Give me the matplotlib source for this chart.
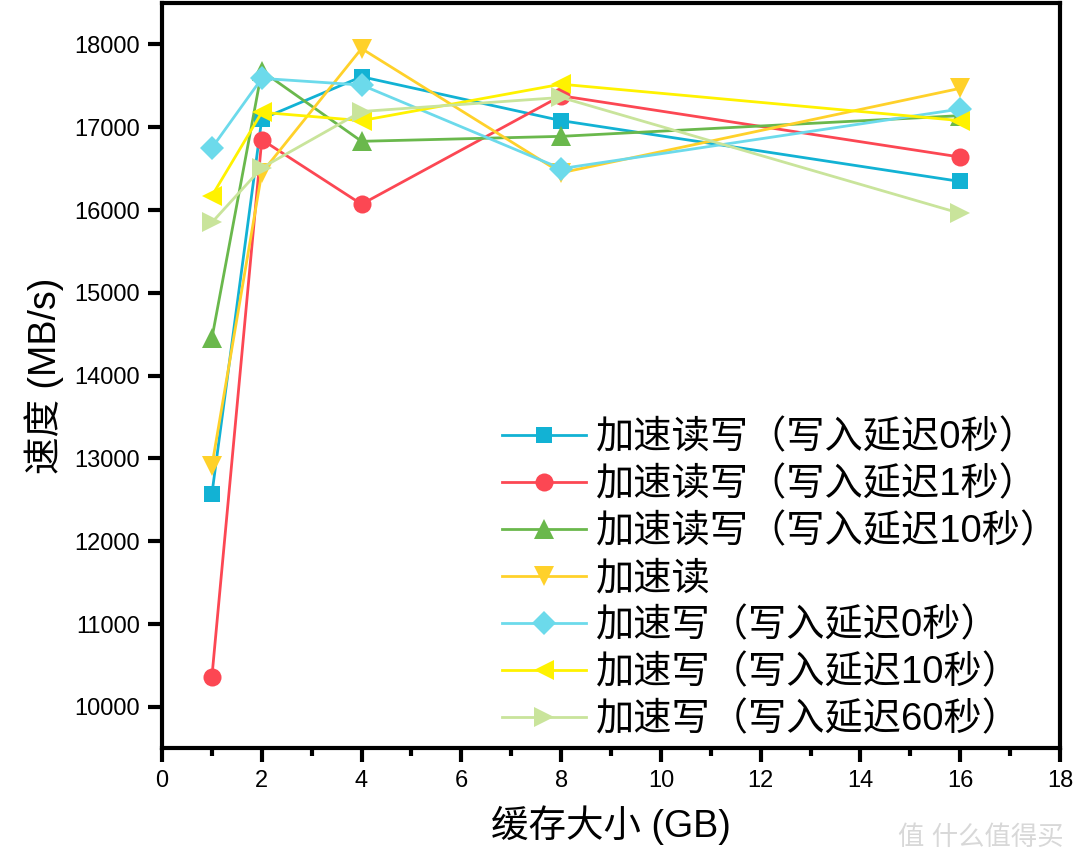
import matplotlib
matplotlib.use("Agg")
import matplotlib.pyplot as plt
from matplotlib.ticker import MultipleLocator

plt.rcParams['font.family'] = ['Liberation Sans', 'Noto Sans CJK SC', 'DejaVu Sans']

# cache size (GB)
cache_gb = [1, 2, 4, 8, 16]

# speed (MB/s) per configuration
rw_delay0 = [12570, 17100, 17610, 17080, 16345]
rw_delay1 = [10360, 16850, 16070, 17380, 16640]
rw_delay10 = [14450, 17680, 16830, 16890, 17140]
read_only = [12910, 16450, 17950, 16450, 17470]
w_delay0 = [16750, 17590, 17510, 16500, 17220]
w_delay10 = [16170, 17180, 17080, 17520, 17080]
w_delay60 = [15850, 16510, 17190, 17360, 15960]

labels = ['加速读写（写入延迟0秒）', '加速读写（写入延迟1秒）', '加速读写（写入延迟10秒）',
          '加速读', '加速写（写入延迟0秒）', '加速写（写入延迟10秒）', '加速写（写入延迟60秒）']
series = [rw_delay0, rw_delay1, rw_delay10, read_only, w_delay0, w_delay10, w_delay60]
colors = ['#12b2d4', '#fc4753', '#6ab84c', '#ffd12a', '#6cdaeb', '#fff200', '#c9e49b']
markers = ['s', 'o', '^', 'v', 'D', '<', '>']
sizes = [11, 13, 14, 14, 12, 14, 14]

fig = plt.figure(figsize=(10.8, 8.68), dpi=100)
ax = fig.add_axes([0.150, 0.138, 0.8315, 0.8585])

for ys, lab, c, m, s in zip(series, labels, colors, markers, sizes):
    ax.plot(cache_gb, ys, color=c, marker=m, markersize=s, linewidth=2.0,
            markeredgewidth=0, label=lab)

ax.set_xlim(0, 18)
ax.set_ylim(9500, 18500)
ax.xaxis.set_major_locator(MultipleLocator(2))
ax.xaxis.set_minor_locator(MultipleLocator(1))
ax.yaxis.set_major_locator(MultipleLocator(1000))

for sp in ax.spines.values():
    sp.set_linewidth(3)
ax.tick_params(which='major', direction='out', length=10, width=3, labelsize=17, pad=6)
ax.tick_params(which='minor', direction='out', length=6, width=3)

ax.set_xlabel('缓存大小 (GB)', fontsize=27, labelpad=9)
ax.set_ylabel('速度 (MB/s)', fontsize=27, labelpad=7)

ax.legend(loc='lower right', bbox_to_anchor=(1.018, -0.01), frameon=False, fontsize=27.5,
          handlelength=2.2, handletextpad=0.25, labelspacing=0.28, borderaxespad=0.05)

fig.text(0.985, 0.035, '值 什么值得买', ha='right', va='center', fontsize=19,
         color='#d8d8d8')

fig.savefig('out.png', dpi=100)
